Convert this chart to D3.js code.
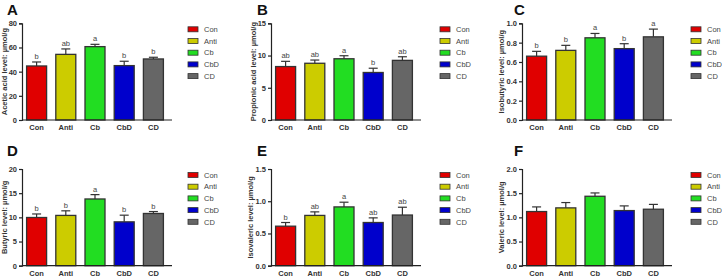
<!DOCTYPE html>
<html>
<head>
<meta charset="utf-8">
<script src="https://cdn.jsdelivr.net/npm/d3@7"></script>
<style>
  body { margin: 0; background: #fff; }
  svg { display: block; font-family: Arial, "Liberation Sans", sans-serif; }
</style>
</head>
<body>
<div id="chart"></div>
<script>
// groups and colours
const groups = ["Con", "Anti", "Cb", "CbD", "CD"];
const groupColors = ["#e00000", "#cccc00", "#22dd22", "#0000cc", "#666666"];

// A - acetic acid
const aceticMean = [44.7, 54.3, 60.7, 45.0, 50.5];
const aceticSem = [3.3, 4.5, 1.9, 3.6, 1.4];
const aceticSig = ["b", "ab", "a", "b", "b"];
const aceticTicks = [0, 20, 40, 60, 80];
// B - propionic acid
const propionicMean = [8.29, 8.8, 9.5, 7.37, 9.25];
const propionicSem = [0.81, 0.5, 0.47, 0.66, 0.56];
const propionicSig = ["ab", "ab", "a", "b", "ab"];
const propionicTicks = [0, 5, 10, 15];
// C - isobutyric
const isobutyricMean = [0.66, 0.72, 0.85, 0.738, 0.86];
const isobutyricSem = [0.05, 0.052, 0.045, 0.051, 0.08];
const isobutyricSig = ["b", "b", "a", "b", "a"];
const isobutyricTicks = [0, 0.2, 0.4, 0.6, 0.8, 1.0];
// D - butyric
const butyricMean = [9.97, 10.4, 13.8, 9.07, 10.8];
const butyricSem = [0.73, 0.95, 0.9, 1.38, 0.4];
const butyricSig = ["b", "b", "a", "b", "b"];
const butyricTicks = [0, 5, 10, 15, 20];
// E - isovaleric
const isovalericMean = [0.613, 0.78, 0.912, 0.67, 0.786];
const isovalericSem = [0.057, 0.055, 0.073, 0.072, 0.121];
const isovalericSig = ["b", "ab", "a", "ab", "ab"];
const isovalericTicks = [0, 0.5, 1.0, 1.5];
// F - valeric
const valericMean = [1.12, 1.196, 1.436, 1.14, 1.168];
const valericSem = [0.096, 0.11, 0.069, 0.097, 0.1];
const valericSig = [];
const valericTicks = [0, 0.5, 1.0, 1.5, 2.0];

const panels = [
  {tag: "A", title: "Acetic acid level: \u00b5mol/g", mean: aceticMean, sem: aceticSem, sig: aceticSig, ticks: aceticTicks, fmt: "d", col: 0, row: 0},
  {tag: "B", title: "Propionic acid level: \u00b5mol/g", mean: propionicMean, sem: propionicSem, sig: propionicSig, ticks: propionicTicks, fmt: "d", col: 1, row: 0},
  {tag: "C", title: "Isobutyric level: \u00b5mol/g", mean: isobutyricMean, sem: isobutyricSem, sig: isobutyricSig, ticks: isobutyricTicks, fmt: ".1f", col: 2, row: 0},
  {tag: "D", title: "Butyric level: \u00b5mol/g", mean: butyricMean, sem: butyricSem, sig: butyricSig, ticks: butyricTicks, fmt: "d", col: 0, row: 1},
  {tag: "E", title: "Isovaleric level: \u00b5mol/g", mean: isovalericMean, sem: isovalericSem, sig: isovalericSig, ticks: isovalericTicks, fmt: ".1f", col: 1, row: 1},
  {tag: "F", title: "Valeric level: \u00b5mol/g", mean: valericMean, sem: valericSem, sig: valericSig, ticks: valericTicks, fmt: ".1f", col: 2, row: 1}
];

const W = 722, H = 278;
const axisX = [22, 271, 522];
const tagX = [7, 257, 514];
const legendX = [188, 440, 691];
const plotTop = [23.3, 169];
const plotH = 96.7;
const tagY = [14.5, 156];

const svg = d3.select("#chart").append("svg")
  .attr("width", W)
  .attr("height", H);
svg.append("rect").attr("width", W).attr("height", H).attr("fill", "#fff");

panels.forEach(function(p) {
  const x0 = axisX[p.col], y0 = plotTop[p.row];
  const g = svg.append("g");

  const x = d3.scaleBand()
    .domain(groups)
    .range([x0, x0 + 146])
    .paddingInner(0.315)
    .paddingOuter(0.1575);
  const y = d3.scaleLinear()
    .domain([p.ticks[0], p.ticks[p.ticks.length - 1]])
    .range([y0 + plotH, y0]);

  // panel letter
  g.append("text")
    .attr("x", tagX[p.col])
    .attr("y", tagY[p.row])
    .style("font-size", "15px")
    .style("font-weight", "bold")
    .attr("fill", "#111")
    .text(p.tag);

  // bars
  g.selectAll("rect.bar")
    .data(p.mean)
    .enter()
    .append("rect")
    .attr("class", "bar")
    .attr("x", (d, i) => x(groups[i]))
    .attr("y", d => y(d))
    .attr("width", x.bandwidth())
    .attr("height", d => y(0) - y(d))
    .attr("fill", (d, i) => groupColors[i])
    .attr("stroke", "#333")
    .attr("stroke-width", 1.3);

  // error bars (upper only)
  const cap = 4.5;
  p.mean.forEach(function(m, i) {
    const cx = x(groups[i]) + x.bandwidth() / 2;
    const top = y(m + p.sem[i]);
    g.append("line")
      .attr("x1", cx).attr("x2", cx)
      .attr("y1", y(m)).attr("y2", top)
      .attr("stroke", "#333").attr("stroke-width", 1.2);
    g.append("line")
      .attr("x1", cx - cap).attr("x2", cx + cap)
      .attr("y1", top).attr("y2", top)
      .attr("stroke", "#333").attr("stroke-width", 1.2);
    if (p.sig[i]) {
      g.append("text")
        .attr("x", cx)
        .attr("y", top - 3)
        .attr("text-anchor", "middle")
        .style("font-size", "7.5px")
        .attr("fill", "#444")
        .text(p.sig[i]);
    }
  });

  // y axis
  const yAxis = g.append("g")
    .attr("class", "axis")
    .attr("transform", "translate(" + x0 + ",0)")
    .call(d3.axisLeft(y).tickValues(p.ticks).tickSize(3).tickPadding(2).tickFormat(d3.format(p.fmt)));
  yAxis.selectAll("text")
    .style("font-size", "7.5px")
    .style("font-weight", "bold")
    .attr("fill", "#333");

  // x axis
  const xAxis = g.append("g")
    .attr("class", "axis")
    .attr("transform", "translate(0," + (y0 + plotH) + ")")
    .call(d3.axisBottom(x).tickSize(0).tickPadding(5));
  xAxis.select(".domain").attr("d", "M" + x0 + ",0H" + (x0 + 150));
  xAxis.selectAll("text")
    .style("font-size", "7.5px")
    .style("font-weight", "bold")
    .attr("fill", "#333");
  g.selectAll(".axis path, .axis line")
    .attr("stroke", "#222")
    .attr("stroke-width", 1.2);

  // y title, pushed further out when tick labels have decimals
  const titleOff = p.fmt === ".1f" ? 18.5 : 15;
  g.append("text")
    .attr("transform", "translate(" + (x0 - titleOff) + "," + (y0 + plotH / 2) + ") rotate(-90)")
    .attr("text-anchor", "middle")
    .style("font-size", "7.5px")
    .style("font-weight", "bold")
    .attr("fill", "#333")
    .text(p.title);

  // legend
  const lg = g.append("g")
    .attr("transform", "translate(" + legendX[p.col] + "," + (y0 + 6) + ")");
  const item = lg.selectAll("g")
    .data(groups)
    .enter()
    .append("g")
    .attr("transform", (d, i) => "translate(0," + (i * 11.7) + ")");
  item.append("rect")
    .attr("x", 0).attr("y", -2.5)
    .attr("width", 10).attr("height", 5)
    .attr("fill", (d, i) => groupColors[i])
    .attr("stroke", "#333")
    .attr("stroke-width", 0.8);
  item.append("text")
    .attr("x", 16)
    .attr("y", 2.7)
    .style("font-size", "7.5px")
    .attr("fill", "#444")
    .text(d => d);
});
</script>
</body>
</html>
